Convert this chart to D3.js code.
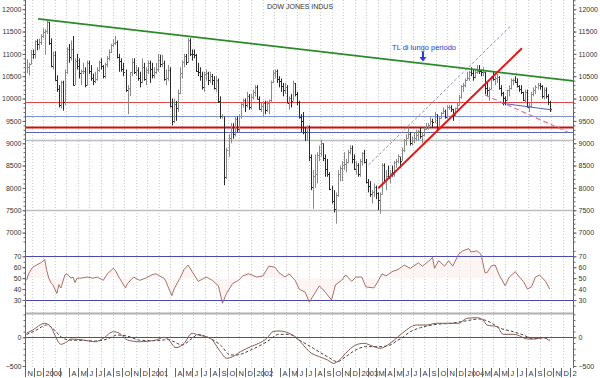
<!DOCTYPE html>
<html lang="it">
<head>
<meta charset="UTF-8"/>
<title>Dow Jones Indus</title>
<script src="https://d3js.org/d3.v7.min.js"></script>
<style>
  body { margin: 0; background: #fff; }
  svg text { font-family: "Liberation Sans", Arial, sans-serif; }
</style>
</head>
<body>
<script>
var w = 600, h = 378;

// weekly bars, first week ends Fri 5 Nov 1999
var firstWeek = new Date(1999, 10, 5);

var weekHigh = [
  10880,10800,11090,11100,11300,11330,11340,11440,11570,
  11550,11750,11720,11350,11050,11060,10520,10300,10400,10400,10650,11150,11220,11300,11400,10900,11000,10900,10650,10800,10700,10850,10850,10750,10560,10600,10700,10850,10900,10750,10800,10950,11100,11220,11330,11400,11300,11000,10900,10800,10650,10300,10600,10900,10900,10750,10700,10600,10900,10800,10700,10850,
  10850,10800,10700,10800,11000,10980,10980,10850,10650,10750,10700,10000,10000,9950,10200,10700,10850,11000,11000,11350,11350,11100,11100,11000,10800,10700,10600,10600,10650,10600,10600,10550,10500,10500,10450,10050,9650,9600,8900,9200,9450,9450,9600,9600,9650,9900,10000,10000,10150,10100,10100,10200,
  10300,10300,10050,9900,9950,9950,9950,9980,10400,10640,10650,10650,10500,10450,10350,10350,10300,10050,10100,10400,10350,10150,9950,9650,9700,9350,9400,9400,8750,8400,8750,8800,8950,9080,9000,8750,8650,8350,8050,7950,7900,8400,8500,8600,8800,8650,8850,8950,8950,8750,8600,8550,
  8650,8800,8850,8650,8200,8150,7950,8100,8050,7900,7900,8550,8550,8400,8500,8400,8500,8600,8650,8750,8700,8900,9100,9200,9350,9250,9150,9250,9300,9300,9350,9250,9350,9450,9450,9600,9550,9700,9650,9600,9700,9800,9750,9850,9850,9850,9770,9800,9920,10080,10300,10350,
  10450,10600,10620,10700,10650,10650,10750,10750,10650,10700,10600,10350,10250,10500,10600,10500,10550,10500,10300,10150,10050,10200,10300,10450,10450,10500,10450,10300,10300,10150,10200,10200,9900,10150,10250,10300,10350,10350,10300,10250,10250,10100,9950
];
var weekLow = [
  10570,10520,10760,10890,10900,11080,11100,11200,11350,
  10980,11450,11200,10700,10650,10400,10150,9800,9780,9730,9850,10550,10800,10850,10290,10300,10650,10450,10300,10550,10250,10290,10550,10400,10300,10340,10400,10600,10650,10450,10450,10700,10850,11020,11150,11200,10900,10600,10600,10500,10150,9650,10050,10500,10550,10500,10400,10250,10350,10400,10300,10550,
  10350,10450,10450,10550,10600,10700,10700,10400,10300,10400,9800,9400,9450,9500,9700,10100,10450,10700,10750,10800,10950,10850,10900,10600,10500,10400,10200,10150,10400,10300,10350,10300,10200,10150,9900,9550,9550,8060,8200,8700,9000,9100,9150,9250,9250,9550,9800,9700,9800,9750,9750,9980,
  10050,9980,9750,9700,9600,9650,9700,9650,9900,10350,10450,10350,10250,10150,10050,10100,9900,9750,9800,9950,10050,9850,9550,9250,9200,9050,9050,8600,7950,7530,8000,8100,8600,8700,8600,8250,8250,7950,7650,7450,7200,7800,8150,8150,8400,8350,8550,8750,8550,8400,8300,8250,
  8250,8500,8550,8100,7900,7800,7650,7800,7750,7500,7420,7850,8100,7950,8200,8100,8250,8250,8450,8550,8450,8600,8800,8950,9100,8950,8950,9000,9050,9050,9100,9000,9150,9300,9300,9400,9350,9450,9300,9300,9550,9650,9550,9550,9750,9700,9500,9600,9750,9850,10000,10150,
  10250,10400,10400,10500,10400,10450,10550,10550,10500,10500,10100,10050,9950,10200,10400,10300,10350,10200,10050,9850,9850,9950,10050,10200,10300,10350,10250,10150,10100,9950,9900,9800,9700,9800,10050,10100,10200,10200,10000,9980,10000,9850,9700
];
var weekClose = [
  10704,10770,11003,10988,11286,11225,11257,11405,11497,
  11522,11723,11251,10739,10964,10425,10220,9862,10367,9929,10595,11112,10922,11111,10306,10844,10734,10578,10609,10626,10300,10794,10614,10449,10404,10448,10636,10812,10733,10512,10767,10908,11046,11193,11238,11259,10927,10847,10651,10596,10193,10226,10590,10817,10603,10630,10470,10373,10712,10434,10635,10787,
  10662,10525,10587,10659,10864,10781,10799,10441,10466,10644,9823,9504,9879,9791,10127,10579,10810,10951,10821,11301,11005,10990,10977,10623,10604,10502,10252,10539,10577,10417,10512,10416,10240,10423,9949,9605,9606,8236,8848,9120,9345,9204,9545,9324,9608,9872,9959,9852,10049,9811,10035,10136,
  10259,10000,9771,9840,9907,9744,9903,9968,10368,10573,10608,10427,10404,10271,10191,10257,9910,10006,9940,10353,10105,9925,9589,9504,9253,9243,9379,8684,8019,8264,8313,8745,8778,9011,8664,8427,8312,7986,7701,7528,7850,8322,8443,8517,8537,8579,8805,8896,8645,8433,8511,8303,
  8601,8785,8587,8131,8054,7864,7909,8018,7891,7740,7859,8522,8145,8277,8221,8337,8306,8582,8604,8713,8601,8850,9062,9117,9201,9011,9070,9119,9188,9284,9153,9191,9321,9348,9416,9503,9471,9644,9313,9572,9674,9721,9582,9801,9809,9768,9629,9782,9863,10042,10278,10305,
  10409,10458,10600,10568,10488,10593,10628,10620,10584,10595,10240,10186,10213,10470,10442,10452,10472,10226,10117,10013,9967,10188,10242,10410,10417,10372,10283,10214,10140,9962,10140,9816,9825,10111,10195,10260,10314,10284,10047,10193,10055,9933,9758
];

// RSI: [week index, value]
var rsiPoints = [[0,48],[1,54],[3,60],[5,62],[7,64],[9,67],[10,57],[11,50],[12,46],[13,44],[14,40],[15,36],[16,44],[17,41],[19,53],[20,54],[22,50],[23,51],[24,46],[25,50],[27,50],[30,51],[33,50],[35,51],[38,48],[40,54],[43,59],[44,57],[46,50],[49,41],[50,45],[53,51],[56,48],[59,50],[62,53],[64,54],[66,52],[68,50],[69,47],[71,38],[72,34],[73,40],[76,50],[78,58],[80,62],[82,56],[85,47],[86,48],[89,51],[92,48],[95,43],[97,27],[99,36],[102,45],[105,48],[107,52],[110,54],[114,51],[117,52],[120,61],[123,60],[125,55],[128,51],[130,54],[133,48],[135,40],[138,37],[140,28],[143,37],[145,43],[148,37],[151,30],[153,44],[156,48],[158,53],[161,47],[163,51],[166,51],[168,42],[172,41],[174,47],[176,54],[178,52],[181,56],[184,58],[187,62],[190,59],[194,64],[196,61],[200,67],[201,69],[202,59],[204,66],[207,61],[209,66],[211,61],[214,72],[216,75],[219,77],[220,74],[223,75],[225,72],[227,55],[228,55],[230,61],[232,62],[234,53],[237,43],[239,51],[242,56],[244,51],[246,47],[248,40],[250,42],[252,51],[254,53],[257,47],[259,40]];

// MACD and signal: [week index, value]
var macdPoints = [[0,70],[3,127],[9,244],[12,185],[14,40],[17,-122],[20,-77],[22,-30],[28,-47],[34,-77],[38,-17],[43,98],[46,70],[50,-47],[56,-77],[64,-47],[68,0],[70,-30],[74,-181],[78,-105],[82,70],[85,40],[91,-17],[96,-250],[99,-366],[102,-338],[106,-250],[111,-163],[115,-105],[119,-17],[122,98],[125,110],[130,70],[134,-17],[137,-134],[140,-250],[145,-338],[149,-395],[152,-453],[155,-395],[158,-279],[163,-134],[167,-105],[172,-163],[175,-192],[180,-105],[184,10],[188,127],[193,214],[198,214],[203,244],[208,244],[214,244],[218,331],[223,341],[226,301],[228,214],[233,185],[236,52],[241,52],[243,40],[248,-30],[251,-30],[256,-7],[259,-64]];
var signalPoints = [[0,50],[4,110],[10,214],[14,120],[17,10],[21,-47],[28,-55],[34,-65],[40,-30],[45,40],[50,20],[56,-50],[64,-60],[70,-40],[73,-77],[77,-134],[82,-17],[85,50],[89,10],[96,-134],[101,-308],[104,-308],[111,-221],[119,-77],[125,52],[130,52],[135,-47],[142,-192],[149,-338],[154,-425],[158,-338],[163,-221],[168,-163],[175,-163],[180,-134],[184,-47],[185,-30],[190,98],[195,167],[203,226],[210,244],[218,289],[224,319],[229,272],[234,167],[241,98],[246,40],[251,-30],[256,-7],[259,-47]];

// horizontal levels and trend lines drawn on the price panel
var levelValues = [9920, 9620, 9370, 9250, 9075, 7500];
var longTrend  = [["1999-12-15", 11783], ["2005-01-11", 10395]];
var upTrend    = [["2003-03-08", 7994],  ["2004-07-18", 11127]];
var channelTop = [["2003-02-02", 8515],  ["2004-06-13", 11649]];
var baseLine   = [["2004-05-09", 9896],  ["2004-10-30", 9746]];
var fallLine   = [["2004-03-12", 10082], ["2004-12-25", 9247]];

var monthLabels = ["N","D",
  "2000","","","A","M","J","J","A","S","O","N","D",
  "2001","","","A","M","J","J","A","S","O","N","D",
  "2002","","","A","M","J","J","A","S","O","N","D",
  "2003","","M","A","M","J","J","A","S","O","N","D",
  "2004","","M","A","M","J","J","A","S","O","N","D",
  "2005"];

var parse = d3.timeParse("%Y-%m-%d");

var svg = d3.select("body").append("svg").attr("width", w).attr("height", h);

var xScale = d3.scaleTime()
    .domain([new Date(1999, 10, 1), new Date(2005, 0, 11)])
    .range([25.4, 573]);
var yMain = d3.scaleLinear().domain([7000, 12000]).range([232.6, 9.2]);
var yRsi  = d3.scaleLinear().domain([30, 70]).range([300, 256.3]);
var yMacd = d3.scaleLinear().domain([-500, 0]).range([366, 337.3]);

function weekX(i) { return xScale(d3.timeDay.offset(firstWeek, 7 * i)); }

var defs = svg.append("defs");
defs.append("clipPath").attr("id", "mainClip")
  .append("rect").attr("x", 25).attr("y", 0).attr("width", 548).attr("height", 246);
defs.append("clipPath").attr("id", "labelClip")
  .append("rect").attr("x", 0).attr("y", 0).attr("width", 577).attr("height", h);

// dotted vertical grid
var gridDates = d3.range(0, 50).map(function(k) {
    return d3.timeDay.offset(new Date(1999, 10, 23), 40 * k);
}).filter(function(d) { return d < xScale.domain()[1]; });

svg.append("g").selectAll("line")
    .data(gridDates).enter().append("line")
    .attr("x1", function(d) { return Math.round(xScale(d)) + 0.5; })
    .attr("x2", function(d) { return Math.round(xScale(d)) + 0.5; })
    .attr("y1", 0).attr("y2", 368)
    .attr("stroke", "#cccccc")
    .attr("stroke-dasharray", "1,2");

// support / resistance levels
var levelStyle = [["#e04848", 1], ["#8090d8", 1], ["#cc1010", 2], ["#5a64b8", 1], ["#bdbdbd", 1.3], ["#bdbdbd", 1.3]];
svg.append("g").selectAll("line")
    .data(levelValues).enter().append("line")
    .attr("x1", 25).attr("x2", 573)
    .attr("y1", function(d) { return Math.round(yMain(d)) + 0.5; })
    .attr("y2", function(d) { return Math.round(yMain(d)) + 0.5; })
    .attr("stroke", function(d, i) { return levelStyle[i][0]; })
    .attr("stroke-width", function(d, i) { return levelStyle[i][1]; });

// weekly HLC bars
var bars = svg.append("g");
weekClose.forEach(function(c, i) {
    var x = Math.round(weekX(i)) + 0.5;
    var col = (i > 0 && c < weekClose[i - 1]) ? "#2a2a2a" : "#8a8a8a";
    bars.append("line")
        .attr("x1", x).attr("x2", x)
        .attr("y1", yMain(weekHigh[i])).attr("y2", yMain(weekLow[i]))
        .attr("stroke", col).attr("stroke-width", 1);
    bars.append("line")
        .attr("x1", x).attr("x2", x + 1.5)
        .attr("y1", Math.round(yMain(c)) + 0.5).attr("y2", Math.round(yMain(c)) + 0.5)
        .attr("stroke", col).attr("stroke-width", 1);
});

// trend lines
var trendG = svg.append("g").attr("clip-path", "url(#mainClip)");
function trend(pts, color, width, dash) {
    var l = trendG.append("line")
        .attr("x1", xScale(parse(pts[0][0]))).attr("y1", yMain(pts[0][1]))
        .attr("x2", xScale(parse(pts[1][0]))).attr("y2", yMain(pts[1][1]))
        .attr("stroke", color).attr("stroke-width", width);
    if (dash) l.attr("stroke-dasharray", dash);
}
trend(channelTop, "#8a90b8", 1, "3,2");
trend(fallLine, "#d8789a", 1.2, "5,3");
trend(baseLine, "#5060c0", 1);
trend(longTrend, "#2a8a2a", 1.6);
trend(upTrend, "#e01818", 2);

// annotation
var tx = xScale(parse("2003-04-25"));
svg.append("text")
    .attr("x", tx).attr("y", yMain(11090))
    .attr("font-size", "7.5px").attr("fill", "#2a3ad0")
    .text("TL di lungo periodo");
var ax = xScale(parse("2003-08-10"));
var ay = yMain(11040);
svg.append("path")
    .attr("d", "M" + (ax - 1) + "," + ay + "h2v5h2.5l-3.5,4.5l-3.5,-4.5h2.5z")
    .attr("fill", "#2a3ad0");

// title
svg.append("text")
    .attr("x", 300).attr("y", 8.5)
    .attr("text-anchor", "middle")
    .attr("font-size", "7px").attr("fill", "#333")
    .text("DOW JONES INDUS");

// RSI panel
svg.append("path")
    .datum(rsiPoints)
    .attr("d", d3.area()
        .x(function(d) { return weekX(d[0]); })
        .y0(yRsi(50))
        .y1(function(d) { return yRsi(d[1]); }))
    .attr("fill", "#fcecec").attr("opacity", 0.6);

[70, 30].forEach(function(v) {
    svg.append("line")
        .attr("x1", 25).attr("x2", 573)
        .attr("y1", Math.round(yRsi(v)) + 0.5).attr("y2", Math.round(yRsi(v)) + 0.5)
        .attr("stroke", "#4a4ab0").attr("stroke-width", 1);
});

svg.append("path")
    .datum(rsiPoints)
    .attr("d", d3.line()
        .x(function(d) { return weekX(d[0]); })
        .y(function(d) { return yRsi(d[1]); }))
    .attr("fill", "none").attr("stroke", "#a06058").attr("stroke-width", 0.9);

// separator between RSI and MACD
svg.append("line")
    .attr("x1", 25).attr("x2", 573).attr("y1", 313.5).attr("y2", 313.5)
    .attr("stroke", "#b0b0b0").attr("stroke-width", 2);

// MACD panel
svg.append("line")
    .attr("x1", 25).attr("x2", 573)
    .attr("y1", Math.round(yMacd(0)) + 0.5).attr("y2", Math.round(yMacd(0)) + 0.5)
    .attr("stroke", "#4a4ab0").attr("stroke-width", 1);

svg.append("path")
    .datum(signalPoints)
    .attr("d", d3.line().curve(d3.curveMonotoneX)
        .x(function(d) { return weekX(d[0]); })
        .y(function(d) { return yMacd(d[1]); }))
    .attr("fill", "none").attr("stroke", "#444").attr("stroke-width", 1)
    .attr("stroke-dasharray", "3,2");

svg.append("path")
    .datum(macdPoints)
    .attr("d", d3.line().curve(d3.curveMonotoneX)
        .x(function(d) { return weekX(d[0]); })
        .y(function(d) { return yMacd(d[1]); }))
    .attr("fill", "none").attr("stroke", "#8a5a52").attr("stroke-width", 1);

// vertical axes
[25, 573].forEach(function(x) {
    svg.append("line")
        .attr("x1", x + 0.5).attr("x2", x + 0.5).attr("y1", 0).attr("y2", 368)
        .attr("stroke", "#666");
});

function styleAxis(g) {
    g.select(".domain").remove();
    g.selectAll("line").attr("stroke", "#666");
    g.selectAll("text").attr("font-size", "7px").attr("fill", "#333")
        .attr("font-family", "Liberation Sans, Arial, sans-serif");
}

function addAxes(scale, major, minor) {
    svg.append("g").attr("transform", "translate(25.5,0)")
        .call(d3.axisLeft(scale).tickValues(minor).tickSize(2).tickFormat(""))
        .call(styleAxis);
    svg.append("g").attr("transform", "translate(25.5,0)")
        .call(d3.axisLeft(scale).tickValues(major).tickSize(3).tickPadding(1).tickFormat(d3.format("d")))
        .call(styleAxis);
    svg.append("g").attr("transform", "translate(573.5,0)")
        .call(d3.axisRight(scale).tickValues(minor).tickSize(2).tickFormat(""))
        .call(styleAxis);
    svg.append("g").attr("transform", "translate(573.5,0)")
        .call(d3.axisRight(scale).tickValues(major).tickSize(3).tickPadding(2).tickFormat(d3.format("d")))
        .call(styleAxis);
}

addAxes(yMain, d3.range(7000, 12001, 500), d3.range(6800, 12201, 100));
addAxes(yRsi, [30, 40, 50, 60, 70], d3.range(25, 76, 5));
addAxes(yMacd, [-500, 0], d3.range(-500, 401, 100));

// month ticks along the bottom
var months = d3.timeMonth.range(new Date(1999, 10, 1), new Date(2005, 0, 12));
var monthG = svg.append("g").attr("clip-path", "url(#labelClip)");
months.forEach(function(m, i) {
    var x = Math.round(xScale(m)) + 0.5;
    monthG.append("line")
        .attr("x1", x).attr("x2", x).attr("y1", 368).attr("y2", 377)
        .attr("stroke", "#666");
    monthG.append("text")
        .attr("x", x + 2).attr("y", 376)
        .attr("font-size", "7.5px").attr("fill", "#333")
        .text(monthLabels[i]);
});
</script>
</body>
</html>
